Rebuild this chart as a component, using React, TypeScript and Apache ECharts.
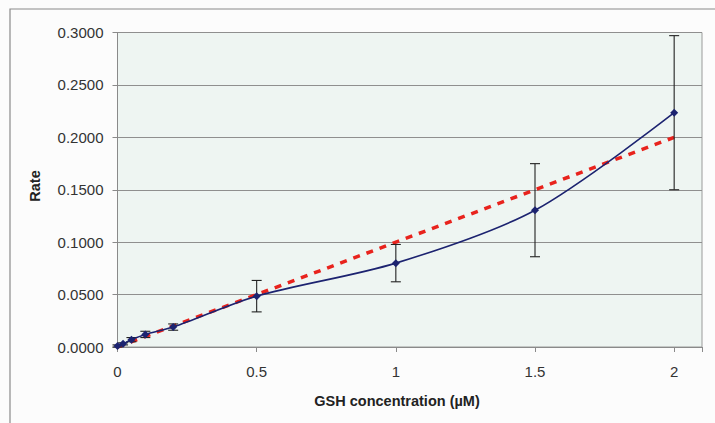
import React, { useEffect, useRef } from "react";
import * as echarts from "echarts";

const concentrations = [0, 0.02, 0.05, 0.1, 0.2, 0.5, 1, 1.5, 2];
const rates = [0.001, 0.003, 0.007, 0.012, 0.019, 0.0485, 0.0800, 0.1305, 0.2235];
const errors = [0.001, 0.001, 0.002, 0.003, 0.003, 0.015, 0.0178, 0.0444, 0.0735];
const trendX = [0, 2];
const trendY = [0, 0.2];
const xTicks = [0, 0.5, 1, 1.5, 2];
const xTitle = "GSH concentration (µM)";
const yTitle = "Rate";

export default function App() {
  const ref = useRef<HTMLDivElement>(null);
  useEffect(() => {
    if (!ref.current) return;
    const chart = echarts.init(ref.current, null, { renderer: "svg" });
    const font = "Liberation Sans, Arial, sans-serif";
    const errData = concentrations.map((x, i) => [x, rates[i] - errors[i], rates[i] + errors[i]]);
    chart.setOption({
      animation: false,
      backgroundColor: "#fcfcfc",
      textStyle: { fontFamily: font },
      graphic: [
        {
          type: "rect",
          shape: { x: 10, y: 9, width: 720, height: 430 },
          style: { fill: "none", stroke: "#8a8a8a", lineWidth: 1.2 },
          silent: true,
          z: -1,
        },
        {
          type: "text",
          x: 397,
          y: 401,
          style: {
            text: xTitle,
            fontFamily: font,
            fontSize: 14.5,
            fontWeight: "bold",
            fill: "#222",
            align: "center",
            verticalAlign: "middle",
          },
        },
        {
          type: "text",
          x: 35,
          y: 186,
          rotation: Math.PI / 2,
          style: {
            text: yTitle,
            fontFamily: font,
            fontSize: 14.5,
            fontWeight: "bold",
            fill: "#222",
            align: "center",
            verticalAlign: "middle",
          },
        },
      ],
      grid: {
        left: 117.5,
        top: 32.5,
        right: 13,
        bottom: 76,
        show: true,
        backgroundColor: "#eef5f2",
        borderColor: "#9a9a9a",
        borderWidth: 1,
      },
      xAxis: {
        type: "value",
        min: 0,
        max: 2.1,
        interval: 0.5,
        axisLine: { show: true, lineStyle: { color: "#8a8a8a" } },
        axisTick: { show: true, length: 5, lineStyle: { color: "#8a8a8a" } },
        splitLine: { show: false },
        axisLabel: {
          fontFamily: font,
          fontSize: 15,
          color: "#333",
          margin: 17,
          formatter: (v: number) => (xTicks.some((t) => Math.abs(t - v) < 1e-9) ? String(v) : ""),
        },
      },
      yAxis: {
        type: "value",
        min: 0,
        max: 0.3,
        interval: 0.05,
        axisLine: { show: true, lineStyle: { color: "#8a8a8a" } },
        axisTick: { show: true, length: 5, lineStyle: { color: "#8a8a8a" } },
        splitLine: { show: true, lineStyle: { color: "#8f8f8f", width: 1 } },
        axisLabel: {
          fontFamily: font,
          fontSize: 15,
          color: "#333",
          margin: 14,
          formatter: (v: number) => v.toFixed(4),
        },
      },
      series: [
        {
          type: "line",
          data: trendX.map((x, i) => [x, trendY[i]]),
          symbol: "none",
          lineStyle: { color: "#e8231d", width: 3.5, type: [7, 7] },
          z: 3,
        },
        {
          type: "custom",
          data: errData,
          renderItem: (params: any, api: any) => {
            const x = api.value(0);
            const lo = api.coord([x, api.value(1)]);
            const hi = api.coord([x, api.value(2)]);
            const w = 5;
            const style = { stroke: "#222", lineWidth: 1.1 };
            return {
              type: "group",
              children: [
                { type: "line", shape: { x1: lo[0], y1: lo[1], x2: hi[0], y2: hi[1] }, style },
                { type: "line", shape: { x1: lo[0] - w, y1: lo[1], x2: lo[0] + w, y2: lo[1] }, style },
                { type: "line", shape: { x1: hi[0] - w, y1: hi[1], x2: hi[0] + w, y2: hi[1] }, style },
              ],
            };
          },
          z: 4,
        },
        {
          type: "line",
          data: concentrations.map((x, i) => [x, rates[i]]),
          smooth: 0.3,
          symbol: "diamond",
          symbolSize: 8,
          itemStyle: { color: "#1c2370" },
          lineStyle: { color: "#1c2370", width: 1.6 },
          z: 5,
        },
      ],
    });
    return () => chart.dispose();
  }, []);
  return (
    <div
      ref={ref}
      style={{ position: "absolute", left: 0, top: 0, width: 715, height: 423 }}
    />
  );
}
